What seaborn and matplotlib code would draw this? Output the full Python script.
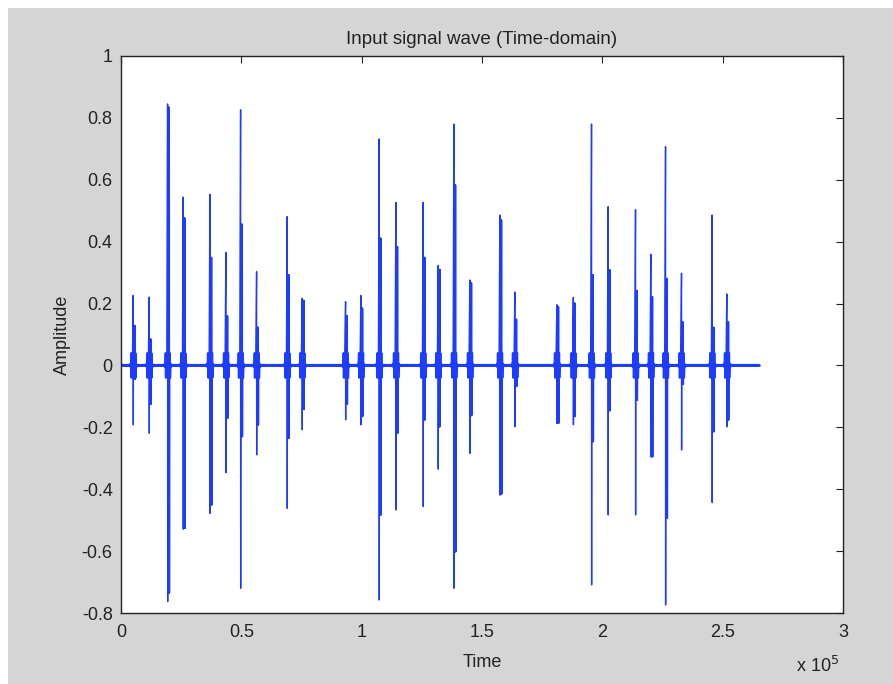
import numpy as np
import pandas as pd
import seaborn as sns
import matplotlib
matplotlib.use("Agg")
import matplotlib.pyplot as plt
from matplotlib.patches import Rectangle

# ---- data (time in samples, amplitudes) ----
burst_t = [5110, 11760, 19400, 25880, 36980, 43620, 49730, 56380, 69090, 75320,
           93350, 99710, 107310, 114250, 125590, 131820, 138350, 144990, 157460, 163690,
           181140, 187990, 195550, 202450, 213830, 220190, 226300, 232940, 245660, 251770]
peak_pos = [0.226, 0.221, 0.845, 0.544, 0.553, 0.365, 0.826, 0.303, 0.481, 0.217,
            0.206, 0.226, 0.732, 0.527, 0.527, 0.323, 0.780, 0.276, 0.486, 0.237,
            0.196, 0.220, 0.780, 0.513, 0.503, 0.359, 0.707, 0.298, 0.486, 0.231]
peak_neg = [-0.192, -0.219, -0.763, -0.529, -0.478, -0.346, -0.720, -0.289, -0.462, -0.208,
            -0.176, -0.192, -0.758, -0.467, -0.456, -0.335, -0.720, -0.284, -0.419, -0.198,
            -0.187, -0.192, -0.709, -0.483, -0.483, -0.295, -0.774, -0.273, -0.443, -0.198]
mid_pos = [0.129, 0.085, 0.834, 0.476, 0.349, 0.160, 0.456, 0.123, 0.293, 0.210,
           0.160, 0.185, 0.411, 0.384, 0.349, 0.310, 0.583, 0.266, 0.470, 0.149,
           0.190, 0.201, 0.293, 0.309, 0.242, 0.222, 0.281, 0.140, 0.123, 0.140]
mid_neg = [-0.045, -0.125, -0.735, -0.526, -0.451, -0.171, -0.230, -0.192, -0.235, -0.142,
           -0.125, -0.165, -0.483, -0.219, -0.176, -0.198, -0.602, -0.162, -0.415, -0.068,
           -0.187, -0.165, -0.246, -0.146, -0.112, -0.295, -0.494, -0.060, -0.214, -0.176]
core_amp = 0.04
signal_end = 265200

x_ticks = [0, 0.5, 1, 1.5, 2, 2.5, 3]
x_ticklabels = ["0", "0.5", "1", "1.5", "2", "2.5", "3"]
y_ticks = [-0.8, -0.6, -0.4, -0.2, 0, 0.2, 0.4, 0.6, 0.8, 1]
y_ticklabels = ["-0.8", "-0.6", "-0.4", "-0.2", "0", "0.2", "0.4", "0.6", "0.8", "1"]

# ---- assemble the waveform polyline from the read bursts ----
xs, ys = [0], [0.0]
for t, pp, pn, mp, mn in zip(burst_t, peak_pos, peak_neg, mid_pos, mid_neg):
    xs.append(t - 1100); ys.append(0.0)
    for k, off in enumerate(range(-1000, -250, 110)):
        xs.append(t + off); ys.append(core_amp if k % 2 == 0 else -core_amp)
    xs += [t - 40, t, t + 40]
    ys += [pp, pn, 0.0]
    for k, off in enumerate(range(250, 750, 70)):
        xs.append(t + off); ys.append(mp if k % 2 == 0 else mn)
    for k, off in enumerate(range(820, 1250, 110)):
        xs.append(t + off); ys.append(core_amp if k % 2 == 0 else -core_amp)
    xs.append(t + 1300); ys.append(0.0)
xs.append(signal_end); ys.append(0.0)

df = pd.DataFrame({"Time": np.array(xs) / 1e5, "Amplitude": ys})
df["Base"] = df["Amplitude"].clip(-0.005, 0.005)

# ---- figure ----
sns.set_theme(style="white")
plt.rcParams['font.family'] = ['Liberation Sans', 'DejaVu Sans']
plt.rcParams['axes.unicode_minus'] = False

BG = "#d5d5d5"
BLUE = "#1c3cff"
TXT = "#222222"
FS = 13
fig = plt.figure(figsize=(8.93, 6.84), dpi=100, facecolor=BG)
ax = fig.add_axes([121/893, 1-613/684, (843-121)/893, (613-56)/684])
ax.set_facecolor("white")

# white strips at top and left edges
fig.patches.append(Rectangle((0, 1-8/684), 1, 8/684, transform=fig.transFigure,
                             facecolor="white", edgecolor="none", zorder=0))
fig.patches.append(Rectangle((0, 0), 8/893, 1, transform=fig.transFigure,
                             facecolor="white", edgecolor="none", zorder=0))

sns.lineplot(data=df, x="Time", y="Base", ax=ax, color=BLUE, lw=2.2,
             estimator=None, sort=False)
sns.lineplot(data=df, x="Time", y="Amplitude", ax=ax, color=BLUE, lw=1.0,
             estimator=None, sort=False)

ax.set_xlim(0, 3)
ax.set_ylim(-0.8, 1)
ax.set_xticks(x_ticks)
ax.set_xticklabels(x_ticklabels)
ax.set_yticks(y_ticks)
ax.set_yticklabels(y_ticklabels)
ax.tick_params(direction="in", length=5, width=0.8, colors=TXT,
               top=True, right=True, labelsize=FS)
ax.tick_params(axis="x", pad=8)
ax.tick_params(axis="y", pad=6)
for s in ax.spines.values():
    s.set_color(TXT)
    s.set_linewidth(1.0)

ax.set_title("Input signal wave (Time-domain)", fontsize=13.5, color=TXT, pad=9)
ax.set_xlabel("Time", fontsize=FS, color=TXT, labelpad=9)
ax.set_ylabel("Amplitude", fontsize=FS, color=TXT, labelpad=8)
fig.text(796/893, 1-666/684, r"x 10$^5$", fontsize=FS, color=TXT,
         ha="left", va="center")

fig.savefig("out.png", dpi=100, facecolor=BG)
